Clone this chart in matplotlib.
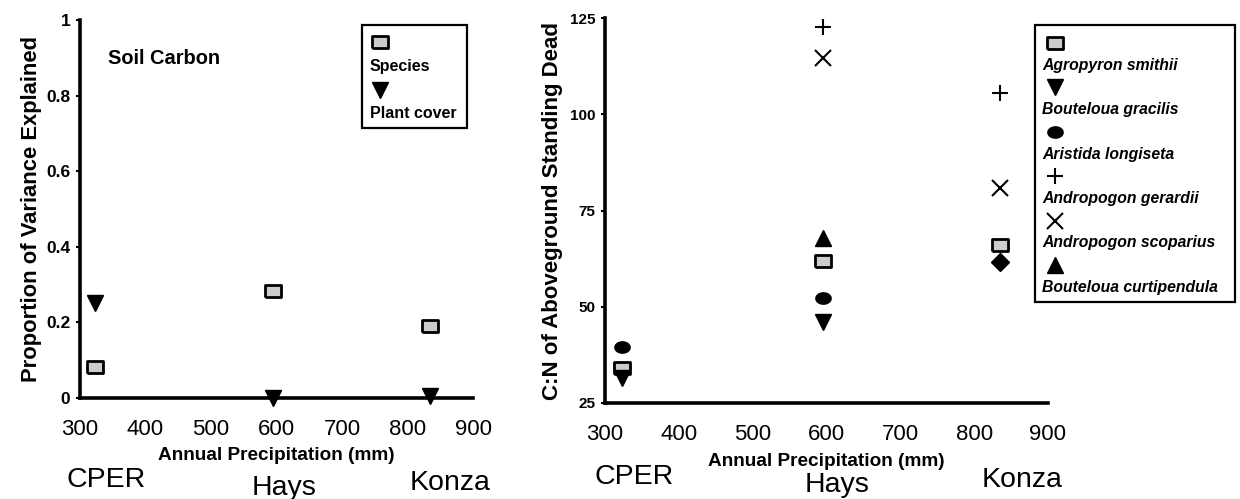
import numpy as np
import matplotlib
matplotlib.use('Agg')
import matplotlib.pyplot as plt
from matplotlib.lines import Line2D
from matplotlib.patches import Rectangle

plt.rcParams['font.family'] = ['Liberation Sans', 'DejaVu Sans']

# site precipitation (mm)
sites = ['CPER', 'Hays', 'Konza']
precip = [323, 595, 835]

# left panel: soil carbon
species_var = [0.083, 0.283, 0.19]
cover_var = [0.252, 0.0, 0.005]

# right panel: C:N of standing dead (None = not present)
agropyron = [34, 62, 66]
gracilis = [31.5, 46, None]
aristida = [39.5, 52.3, None]
gerardii = [None, 122.7, 105.5]
scoparius = [None, 114.6, 80.8]
curtipendula = [None, 67.9, None]
other_konza = [None, None, 61.6]

t = np.linspace(0, 2 * np.pi, 40)
ellipse = np.column_stack([1.35 * np.cos(t), np.sin(t)])
box = [(-1.5, -1), (1.5, -1), (1.5, 1), (-1.5, 1), (-1.5, -1)]

sq_style = dict(marker=box, ms=12, mfc='#cccccc', mec='black', mew=2, ls='none')
styles = {
    'Agropyron smithii': sq_style,
    'Bouteloua gracilis': dict(marker='v', ms=11, color='black', ls='none'),
    'Aristida longiseta': dict(marker=ellipse, ms=11, color='black', ls='none'),
    'Andropogon gerardii': dict(marker='+', ms=12, color='black', mew=1.5, ls='none'),
    'Andropogon scoparius': dict(marker='x', ms=11, color='black', mew=1.5, ls='none'),
    'Bouteloua curtipendula': dict(marker='^', ms=11, color='black', ls='none'),
}

fig = plt.figure(figsize=(12.4, 4.99), dpi=100)
W, H = 1240.0, 499.0


def fx(px):
    return px / W


def fy(py):
    return 1 - py / H


def style_axes(ax, ylabsize):
    for s in ['top', 'right']:
        ax.spines[s].set_visible(False)
    for s in ['left', 'bottom']:
        ax.spines[s].set_linewidth(2.6)
    ax.set_xlim(300, 900)
    ax.set_xticks([300, 400, 500, 600, 700, 800, 900])
    ax.tick_params(axis='x', length=0, labelsize=16, pad=15)
    ax.tick_params(axis='y', length=3, width=1.5, labelsize=ylabsize, pad=4)
    for lab in ax.get_yticklabels():
        lab.set_fontweight('bold')


# ---- left panel
ax1 = fig.add_axes([fx(80), fy(398), fx(473) - fx(80), fy(20) - fy(398)])
ax1.plot(precip, species_var, **sq_style, clip_on=False)
ax1.plot(precip, cover_var, marker='v', ms=11, color='black', ls='none', clip_on=False)
ax1.set_ylim(0, 1)
ax1.set_yticks([0, 0.2, 0.4, 0.6, 0.8, 1])
ax1.set_yticklabels(['0', '0.2', '0.4', '0.6', '0.8', '1'])
style_axes(ax1, 12.5)
ax1.set_ylabel('Proportion of Variance Explained', fontsize=15.8, fontweight='bold', labelpad=3)
ax1.set_xlabel('Annual Precipitation (mm)', fontsize=13.7, fontweight='bold', labelpad=5)
fig.text(fx(108), fy(58), 'Soil Carbon', fontsize=14.4, fontweight='bold', va='center')

# ---- right panel
ax2 = fig.add_axes([fx(605), fy(403), fx(1048) - fx(605), fy(18) - fy(403)])
for name, vals in [('Agropyron smithii', agropyron), ('Bouteloua gracilis', gracilis),
                   ('Aristida longiseta', aristida), ('Andropogon gerardii', gerardii),
                   ('Andropogon scoparius', scoparius), ('Bouteloua curtipendula', curtipendula)]:
    xs = [p for p, v in zip(precip, vals) if v is not None]
    ys = [v for v in vals if v is not None]
    ax2.plot(xs, ys, **styles[name], clip_on=False)
xs = [p for p, v in zip(precip, other_konza) if v is not None]
ys = [v for v in other_konza if v is not None]
ax2.plot(xs, ys, marker='D', ms=9, color='black', ls='none')
ax2.set_ylim(25, 125)
ax2.set_yticks([25, 50, 75, 100, 125])
style_axes(ax2, 11)
ax2.set_ylabel('C:N of Aboveground Standing Dead', fontsize=16, fontweight='bold', labelpad=5)
ax2.set_xlabel('Annual Precipitation (mm)', fontsize=13.7, fontweight='bold', labelpad=6)

# site names under the axes
site_px_left = [106, 284, 450]
site_px_right = [634, 837, 1022]
site_py = [480, 488, 483]
for name, a, b, py in zip(sites, site_px_left, site_px_right, site_py):
    fig.text(fx(a), fy(py), name, fontsize=20.5, ha='center', va='center')
    fig.text(fx(b), fy(py - 3), name, fontsize=20.5, ha='center', va='center')


def legend_box(x0, y0, x1, y1, entries, mx, tx, top, step, font):
    fig.add_artist(Rectangle((fx(x0), fy(y1)), fx(x1) - fx(x0), fy(y0) - fy(y1),
                             transform=fig.transFigure, fill=False, lw=1.6, ec='black'))
    y = top
    for label, st in entries:
        fig.add_artist(Line2D([fx(mx)], [fy(y)], transform=fig.transFigure, **st))
        fig.text(fx(tx), fy(y + step), label, va='center', **font)
        y += 2 * step


legend_box(362, 25, 467, 128,
           [('Species', sq_style),
            ('Plant cover', dict(marker='v', ms=11, color='black', ls='none'))],
           380, 370, 42, 24, dict(fontsize=11.5, fontweight='bold'))

legend_box(1035, 25, 1235, 302,
           [(k, v) for k, v in styles.items()],
           1055, 1042, 43, 22.2, dict(fontsize=11.3, fontweight='bold', style='italic'))

fig.savefig('out.png', dpi=100)
